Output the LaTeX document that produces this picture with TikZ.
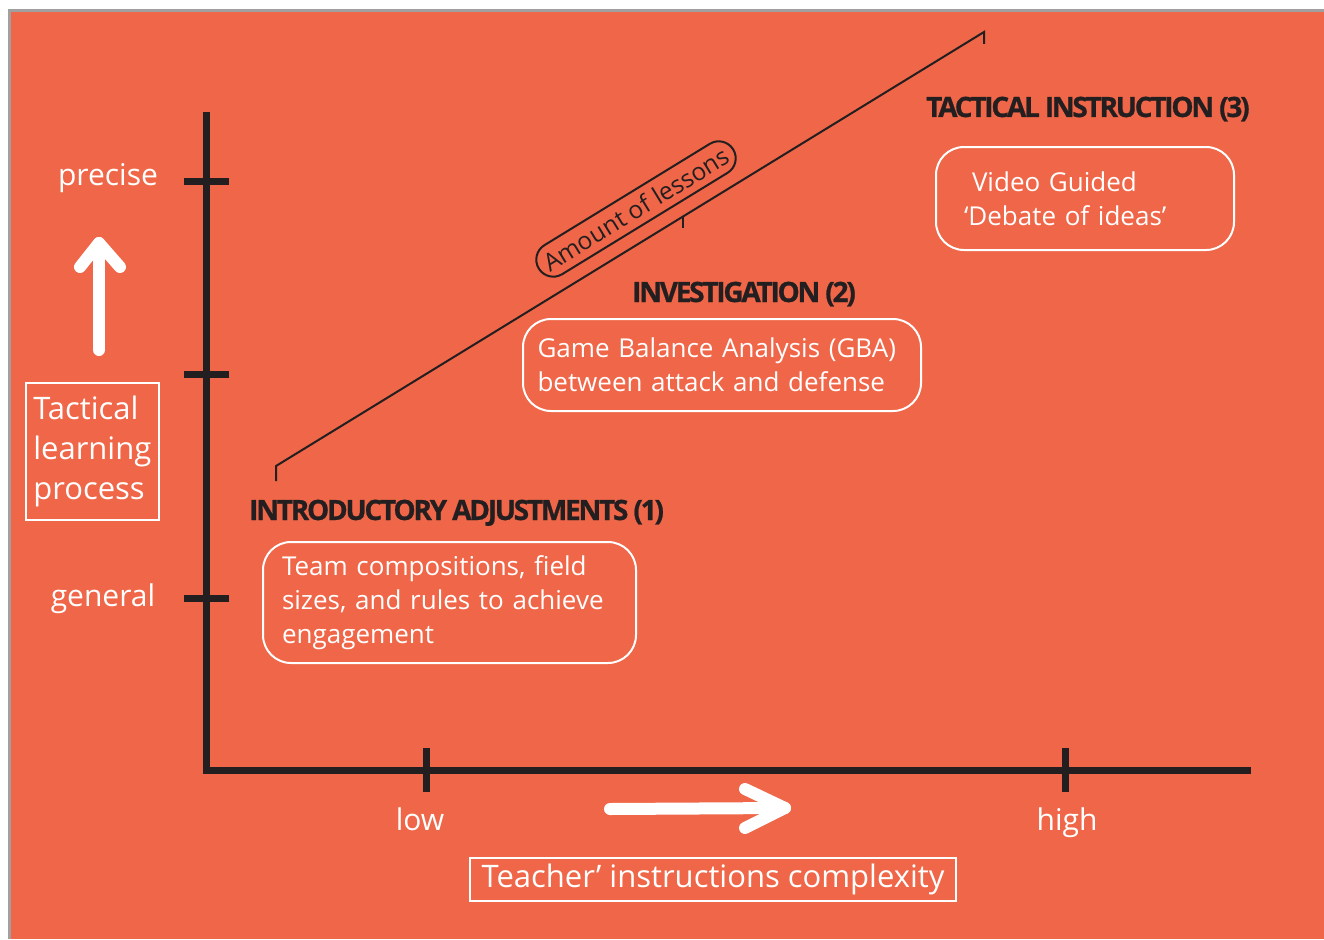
\documentclass[tikz,border=0pt]{standalone}
\usepackage{fontspec}
\setmainfont{Open Sans}
\newfontfamily\headfont[LetterSpace=-8,BoldFeatures={FakeBold=0.8}]{Open Sans}
\usetikzlibrary{shapes.misc,calc}
\definecolor{bgorange}{RGB}{240,102,72}
\definecolor{dark}{RGB}{35,31,32}
\definecolor{bordergray}{RGB}{160,160,160}
\tikzset{
  axisline/.style={draw=dark,line width=7pt,line join=miter},
  tickline/.style={draw=dark,line width=7pt},
  thinline/.style={draw=dark,line width=2pt,line join=miter},
  wlabel/.style={text=white,inner sep=0pt,font=\fontsize{30}{36}\selectfont},
  framebox/.style={draw=white,line width=1.6pt,text=white,inner sep=6pt},
  headtext/.style={text=dark,inner sep=0pt,font=\headfont\bfseries\fontsize{28}{32}\selectfont},
  stagebox/.style={draw=white,line width=2pt,rounded corners=28pt,text=white,align=left,
    font=\fontsize{26}{34}\selectfont,anchor=north west,inner ysep=0pt},
  pill/.style={shape=rounded rectangle,draw=dark,line width=2pt,text=dark,
    font=\fontsize{24.5}{28}\selectfont,minimum width=228pt,minimum height=34pt,inner sep=0pt},
  warrow/.style={draw=white,line width=12pt,line cap=round,line join=round},
}
\begin{document}
\begin{tikzpicture}[x=1pt,y=-1pt]
\useasboundingbox (0,0) rectangle (1324,939);
\fill[bordergray] (8,9) rectangle (1324,939);
\fill[bgorange] (11,12) rectangle (1324,939);

% axes
\coordinate (ytop) at (206,112);
\coordinate (origin) at (206,770);
\coordinate (xend) at (1251,770);
\draw[axisline] (ytop) -- (origin) -- (xend);

% y ticks
\coordinate (tprec) at (206,181);
\coordinate (tmid) at (206,374);
\coordinate (tgen) at (206,598);
\foreach \t in {tprec,tmid,tgen}
  \draw[tickline] ([xshift=-22pt]\t) -- ([xshift=23pt]\t);
% x ticks
\coordinate (tlow) at (426,770);
\coordinate (thigh) at (1065,770);
\foreach \t in {tlow,thigh}
  \draw[tickline] ([yshift=22pt]\t) -- ([yshift=-22pt]\t);

% axis labels
\node[wlabel,anchor=base] (precise) at (108,185) {precise};
\node[wlabel,anchor=base] (general) at (103,606) {general};
\node[wlabel,anchor=base] (low) at (420,830) {low};
\node[wlabel,anchor=base] (high) at (1067,830) {high};

\node[framebox,align=left,font=\fontsize{31}{40}\selectfont,anchor=north west,
      minimum width=133pt,minimum height=137pt,inner xsep=7pt] (ylab) at (25,382)
      {Tactical\\learning\\process};
\node[framebox,font=\fontsize{31}{36}\selectfont,minimum width=486pt,minimum height=43pt,
      inner xsep=4pt,inner ysep=0pt] (xlab) at (713,879.5) {Teacher’ instructions complexity};

% white arrows
\coordinate (ua0) at (99,350);
\coordinate (ua1) at (99,243);
\coordinate (ual) at (80,267);
\coordinate (uar) at (120,267);
\draw[warrow] (ua0) -- (ua1);
\draw[warrow] (ual) -- (ua1) -- (uar);
\coordinate (ra0) at (610,809);
\coordinate (ra1) at (785,808);
\coordinate (rat) at (745,789);
\coordinate (rab) at (745,828);
\draw[warrow] (ra0) -- (ra1);
\draw[warrow] (rat) -- (ra1) -- (rab);

% diagonal line "amount of lessons"
\coordinate (d0) at (276,481);
\coordinate (d1) at (276,466);
\coordinate (d2) at (984,32);
\coordinate (d3) at (984,44);
\draw[thinline] (d0) -- (d1) -- (d2) -- (d3);
\coordinate (dt) at ($(d1)!0.575!(d2)$);
\draw[thinline] (dt) -- ++(0,12);
\node[pill,rotate=31.5] (lessons) at (636,209) {Amount of lessons};

% headings
\node[headtext,anchor=base west] (h3) at (926,117) {TACTICAL INSTRUCTION (3)};
\node[headtext,anchor=base west] (h2) at (632,302) {INVESTIGATION (2)};
\node[headtext,anchor=base west] (h1) at (249,520) {INTRODUCTORY ADJUSTMENTS (1)};

% stage boxes
\node[stagebox,text width=335pt,inner xsep=19pt,minimum height=121pt] (b1) at (262,541)
  {Team compositions, field\\sizes, and rules to achieve\\engagement};
\node[stagebox,text width=369pt,inner xsep=14.5pt,minimum height=92pt] (b2) at (522,318)
  {Game Balance Analysis (GBA)\\between attack and defense};
\node[stagebox,text width=242pt,inner xsep=28pt,minimum height=103pt] (b3) at (935,146)
  {\hspace*{8pt}Video Guided\\‘Debate of ideas’};
\end{tikzpicture}
\end{document}
